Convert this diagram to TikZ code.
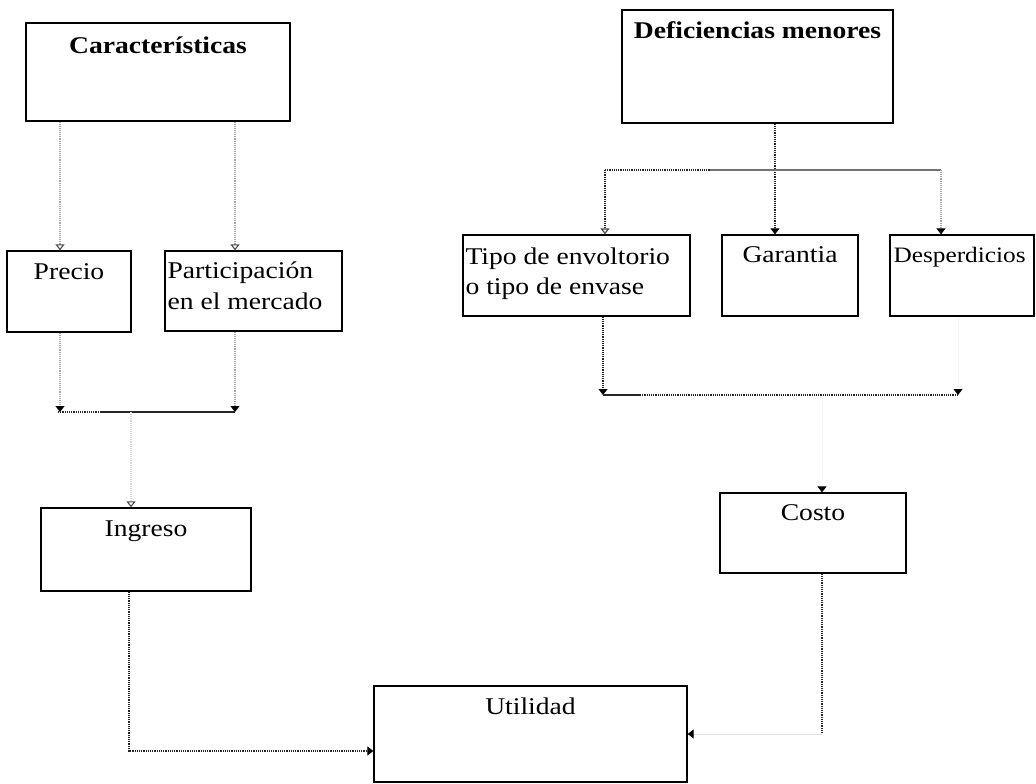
\documentclass[tikz,border=0pt]{standalone}
\usepackage{fontspec}
\setmainfont{Liberation Serif}[FakeStretch=1.15]
\usetikzlibrary{arrows.meta}

\begin{document}
\begin{tikzpicture}[x=1pt,y=-1pt,
  box/.style={draw=black, line width=1.3pt, inner sep=0pt},
  lbl/.style={inner sep=0pt, font=\fontsize{24}{28}\selectfont},
  ttl/.style={inner sep=0pt, font=\fontsize{24}{28}\selectfont\bfseries},
  conn/.style={line width=1.2pt, densely dotted, draw=black!85},
  faint/.style={line width=1.1pt, densely dotted, draw=black!35},
  ghost/.style={line width=1pt, draw=black!3},
  plain/.style={line width=1.1pt, draw=black!85},
  greyline/.style={line width=1.1pt, draw=black!55},
  headfill/.style={-{Triangle[width=9pt,length=6pt,color=black]}},
  headopen/.style={-{Triangle[open,width=9pt,length=6pt,color=black!70]}}
]
\useasboundingbox (0,0) rectangle (1036,784);
\fill[white] (0,0) rectangle (1036,784);

% boxes
\node[box, minimum width=264pt, minimum height=98pt]  (car)  at (158,72)    {};
\node[box, minimum width=271pt, minimum height=113pt] (def)  at (757.5,66.5) {};
\node[box, minimum width=124pt, minimum height=81pt]  (pre)  at (69,291.5)  {};
\node[box, minimum width=177pt, minimum height=80pt]  (par)  at (253.5,291) {};
\node[box, minimum width=227pt, minimum height=81pt]  (tipo) at (576.5,275.5) {};
\node[box, minimum width=136pt, minimum height=81pt]  (gar)  at (790,275.5) {};
\node[box, minimum width=144pt, minimum height=81pt]  (des)  at (962,275.5) {};
\node[box, minimum width=210pt, minimum height=83pt]  (ing)  at (146,549.5) {};
\node[box, minimum width=186pt, minimum height=80pt]  (cos)  at (813,533)   {};
\node[box, minimum width=313pt, minimum height=96pt]  (uti)  at (530.5,734) {};

% texts
\node[ttl, anchor=base] (carT) at ([yshift=-31pt]car.north) {Características};
\node[ttl, anchor=base] (defT) at ([yshift=-29pt]def.north) {Deficiencias menores};
\node[lbl, anchor=base] (preT) at ([yshift=-29pt]pre.north) {Precio};
\node[lbl, anchor=base west] (parT1) at ([xshift=3pt,yshift=-28pt]par.north west) {Participación};
\node[lbl, anchor=base west] (parT2) at ([xshift=3pt,yshift=-59pt]par.north west) {en el mercado};
\node[lbl, anchor=base west] (tipoT1) at ([xshift=3pt,yshift=-30pt]tipo.north west) {Tipo de envoltorio};
\node[lbl, anchor=base west] (tipoT2) at ([xshift=3pt,yshift=-60pt]tipo.north west) {o tipo de envase};
\node[lbl, anchor=base] (garT) at ([yshift=-28pt]gar.north) {Garantia};
\node[lbl, anchor=base west, font=\fontsize{22}{26}\selectfont] (desT) at ([xshift=4pt,yshift=-28pt]des.north west) {Desperdicios};
\node[lbl, anchor=base] (ingT) at ([yshift=-29pt]ing.north) {Ingreso};
\node[lbl, anchor=base] (cosT) at ([yshift=-28pt]cos.north) {Costo};
\node[lbl, anchor=base] (utiT) at ([yshift=-29pt]uti.north) {Utilidad};

% left group: Caracteristicas -> Precio, Participacion -> Ingreso
\coordinate (cL) at ([xshift=-98pt]car.south);
\coordinate (cR) at ([xshift=77pt]car.south);
\draw[faint, headopen] (cL) -- (cL |- pre.north);
\draw[faint, headopen] (cR) -- (cR |- par.north);
\coordinate (pB) at ([xshift=-9pt]pre.south);
\coordinate (qB) at ([xshift=-18.5pt]par.south);
\coordinate (jL) at (58,412);
\coordinate (jC) at (100,412);
\coordinate (jR) at (235,412);
\coordinate (jM) at (131,412);
\draw[faint, headfill] (pB) -- (pB |- jL);
\draw[faint, headfill] (qB) -- (qB |- jL);
\draw[conn] (jL) -- (jC);
\draw[plain] (jC) -- (jR);
\draw[faint, draw=black!15, headopen] (jM) -- (jM |- ing.north);

% Ingreso -> Utilidad
\coordinate (iB) at ([xshift=-17pt]ing.south);
\draw[conn, headfill] (iB) |- ([yshift=-17pt]uti.west);

% right group: Deficiencias menores -> three boxes
\coordinate (dB) at ([xshift=17.5pt]def.south);
\coordinate (hL) at (605,170);
\coordinate (hC) at (710,170);
\coordinate (hR) at (941,170);
\draw[conn, headfill] (dB) -- (dB |- gar.north);
\draw[conn] (hL) -- (hC);
\draw[greyline] (hC) -- (hR);
\draw[conn, headopen] (hL) -- (hL |- tipo.north);
\draw[faint, headfill] (hR) -- (hR |- des.north);

% bottom collector of the right group
\coordinate (tB) at ([xshift=26.5pt]tipo.south);
\coordinate (bL) at (603,395);
\coordinate (bC) at (640,395);
\coordinate (bR) at (958,395);
\coordinate (sB) at ([xshift=-4pt]des.south);
\draw[conn, headfill] (tB) -- (tB |- bL);
\draw[plain] (bL) -- (bC);
\draw[conn] (bC) -- (bR);
\draw[ghost, headfill] (sB) -- (sB |- bR);

% Costo
\coordinate (kB) at ([xshift=9pt]cos.south);
\draw[ghost, headfill] (kB |- bR) -- (kB |- cos.north);
\draw[conn] (kB) -- (kB |- uti.east);
\draw[ghost, draw=black!12, headfill] (kB |- uti.east) -- (uti.east);
\end{tikzpicture}
\end{document}
